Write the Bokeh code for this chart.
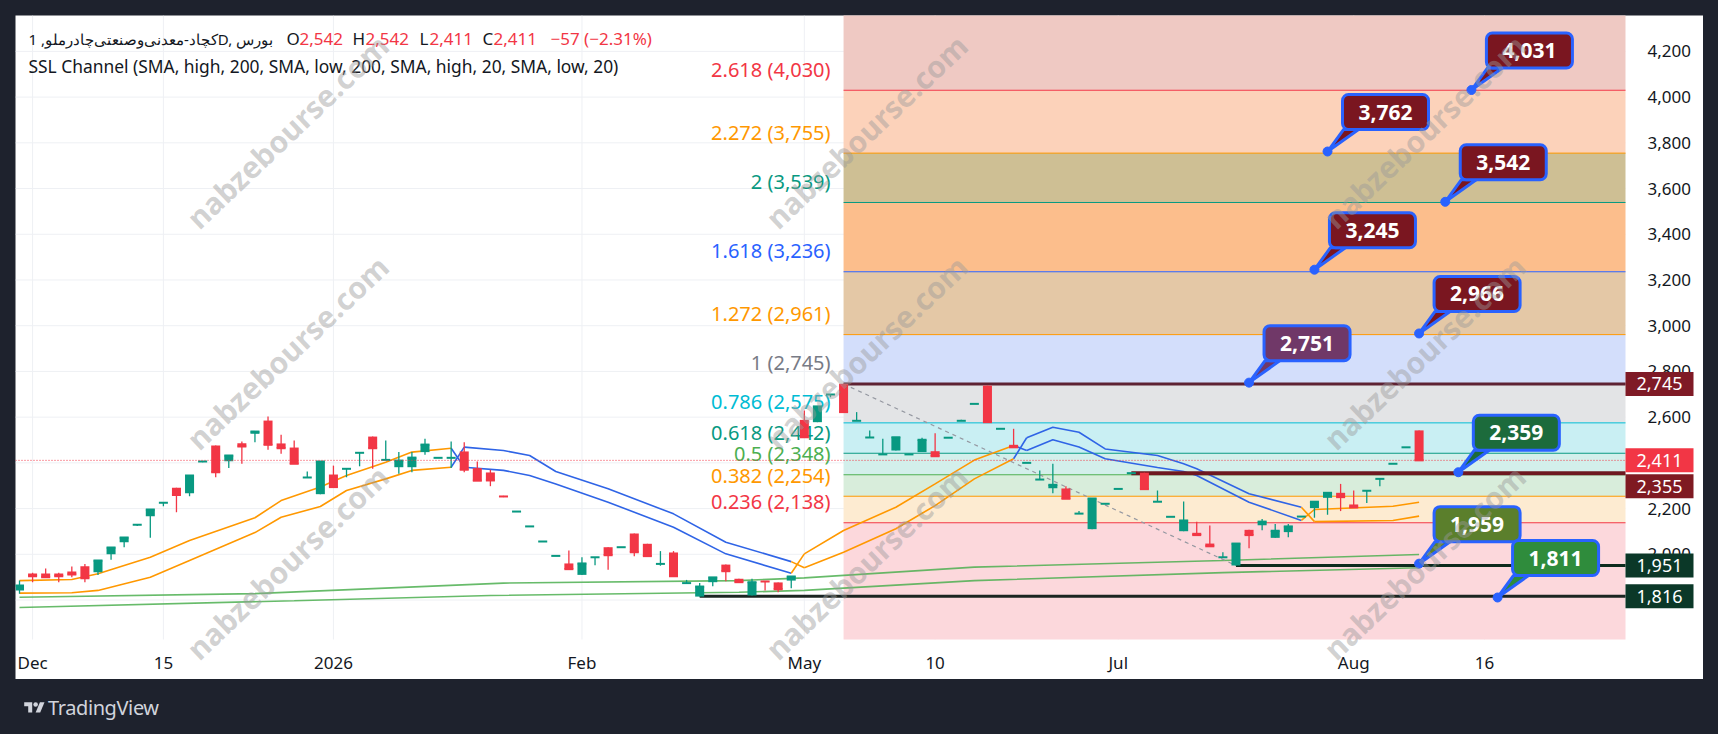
import numpy as np
from bokeh.plotting import figure
from bokeh.models import Label, Div
from bokeh.layouts import column
from bokeh.core.properties import value
from bokeh.embed import file_html
from bokeh.resources import INLINE

# ---------------- data ----------------
opens = [1842, 1916, 1916, 1916, 1925, 1948, 1922, 2000, 2053, 2129, 2167, 2225, 2291, 2267, 2406, 2476,
         2407, 2486, 2527, 2585, 2485, 2467, 2336, 2263, 2349, 2374, 2444, 2515, 2413, 2381, 2381, 2447,
         2422, 2422, 2450, 2377, 2358, 2254, 2187, 2122, 2056, 1993, 1960, 1910, 1987, 2031, 2031, 2091,
         2046, 1958, 2008, 1874, 1815, 1878, 1955, 1893, 1820, 1882, 1877, 1885, 2588, 2578, 2699, 2746,
         2584, 2511, 2437, 2454, 2437, 2447, 2451, 2510, 2584, 2658, 2738, 2549, 2479, 2400, 2327, 2289,
         2288, 2178, 2110, 2221, 2286, 2355, 2357, 2230, 2164, 2101, 2094, 2047, 1987, 1951, 2107, 2127,
         2072, 2097, 2165, 2202, 2247, 2269, 2218, 2278, 2330, 2396, 2468, 2542]
highs = [1885, 1919, 1938, 1919, 1947, 1958, 1973, 2030, 2073, 2129, 2196, 2225, 2291, 2345, 2406, 2476,
         2432, 2493, 2537, 2603, 2523, 2498, 2362, 2406, 2388, 2374, 2444, 2515, 2498, 2447, 2447, 2505,
         2422, 2493, 2490, 2406, 2370, 2256, 2187, 2122, 2056, 1993, 2017, 1987, 1987, 2031, 2031, 2091,
         2046, 2014, 2014, 1888, 1874, 1899, 1955, 1893, 1893, 1882, 1877, 1903, 2629, 2647, 2699, 2746,
         2622, 2542, 2505, 2512, 2440, 2510, 2530, 2510, 2589, 2658, 2738, 2549, 2549, 2400, 2367, 2396,
         2298, 2189, 2244, 2221, 2286, 2355, 2357, 2279, 2164, 2231, 2142, 2126, 2009, 2047, 2107, 2154,
         2133, 2133, 2165, 2230, 2269, 2308, 2279, 2278, 2330, 2396, 2468, 2542]
lows = [1827, 1878, 1900, 1878, 1900, 1878, 1910, 1976, 2031, 2124, 2072, 2210, 2184, 2254, 2403, 2337,
        2377, 2396, 2490, 2457, 2440, 2396, 2336, 2263, 2294, 2337, 2385, 2374, 2413, 2352, 2359, 2435,
        2422, 2377, 2359, 2322, 2298, 2250, 2187, 2122, 2056, 1993, 1935, 1910, 1952, 1932, 2031, 1992,
        1992, 1950, 1904, 1874, 1815, 1860, 1882, 1878, 1820, 1842, 1834, 1852, 2512, 2578, 2687, 2622,
        2584, 2511, 2437, 2454, 2437, 2447, 2429, 2510, 2584, 2658, 2578, 2549, 2468, 2400, 2327, 2267,
        2243, 2178, 2110, 2221, 2286, 2355, 2285, 2230, 2164, 2101, 2084, 2035, 1987, 1951, 2027, 2105,
        2072, 2075, 2165, 2160, 2173, 2189, 2205, 2224, 2298, 2396, 2468, 2411]
closes = [1863, 1904, 1900, 1904, 1912, 1895, 1973, 2030, 2073, 2129, 2196, 2225, 2259, 2345, 2406, 2359,
          2432, 2472, 2537, 2479, 2464, 2396, 2336, 2406, 2294, 2374, 2444, 2464, 2413, 2410, 2423, 2480,
          2422, 2422, 2370, 2322, 2323, 2253, 2187, 2122, 2056, 1993, 1935, 1960, 1987, 1996, 2031, 2009,
          1992, 1958, 1904, 1874, 1859, 1899, 1926, 1878, 1878, 1881, 1847, 1903, 2512, 2647, 2699, 2622,
          2584, 2511, 2437, 2512, 2437, 2501, 2429, 2510, 2584, 2658, 2578, 2549, 2468, 2400, 2327, 2304,
          2243, 2178, 2244, 2221, 2286, 2355, 2285, 2230, 2164, 2148, 2084, 2035, 1987, 2047, 2084, 2143,
          2103, 2122, 2165, 2230, 2269, 2250, 2205, 2278, 2330, 2396, 2468, 2411]

x_tick_bars = [1, 11, 24, 43, 60, 70, 84, 102, 112]
x_tick_labels = ["Dec", "15", "2026", "Feb", "May", "10", "Jul", "Aug", "16"]
y_ticks = [1800, 2000, 2200, 2400, 2600, 2800, 3000, 3200, 3400, 3600, 3800, 4000, 4200]

fib_ratio_labels = ["0.236", "0.382", "0.5", "0.618", "0.786", "1", "1.272", "1.618", "2", "2.272", "2.618"]
fib_prices = [2138, 2254, 2348, 2442, 2575, 2745, 2961, 3236, 3539, 3755, 4030]
fib_start_bar = 63

ssl200_hi_x = [0, 18, 37, 55, 60, 73, 92, 107]
ssl200_hi = [1812, 1828, 1874, 1885, 1897, 1944, 1973, 1999]
ssl200_lo_x = [0, 21, 36, 55, 60, 73, 92, 107]
ssl200_lo = [1767, 1797, 1820, 1834, 1842, 1885, 1920, 1941]

ssl20_x = [0, 4, 6, 10, 13, 18, 20, 23, 25, 28, 30, 33,
           34, 37, 39, 41, 45, 50, 54, 59,
           60, 63, 67, 70, 73, 76,
           77, 79, 81, 83, 87, 89, 90, 94, 98,
           99, 105, 107]
ssl20_hi = [1885, 1890, 1915, 1987, 2060, 2160, 2235, 2294, 2345, 2403, 2447, 2464,
            2469, 2454, 2432, 2362, 2287, 2177, 2053, 1968,
            2002, 2104, 2206, 2308, 2412, 2476,
            2510, 2556, 2534, 2461, 2432, 2396, 2374, 2265, 2206,
            2196, 2210, 2228]
ssl20_lo = [1830, 1832, 1842, 1900, 1973, 2095, 2162, 2209, 2279, 2330, 2367, 2381,
            2381, 2367, 2345, 2308, 2228, 2118, 2002, 1917,
            1941, 2009, 2112, 2213, 2330, 2418,
            2454, 2501, 2469, 2418, 2380, 2362, 2345, 2228, 2148,
            2143, 2148, 2167]
ssl20_regimes = [(0, 33, "up"), (34, 59, "down"), (60, 76, "up"), (77, 98, "down"), (99, 107, "up")]

hline_prices = [2745, 2355, 1951, 1816]
hline_start_bars = [63, 85, 93, 52]

trend_bars = [63, 93]
trend_prices = [2745, 1951]

callout_values = [4031, 3762, 3542, 3245, 2966, 2751, 2359, 1959, 1811]
callout_bars = [111, 100, 109, 99, 107, 94, 110, 107, 113]

axis_mark_prices = [2745, 2411, 2355, 1951, 1816]

# ---------------- geometry / styling ----------------
W, H = 1688, 664            # white panel
PLOT_W, PLOT_H = 1610, 624  # chart pane (the rest is the price / time scale)
X0, X_EDGE = -0.306, 122.78
PB, Y1 = 1627.3, 4357.0
PXX = (X_EDGE - X0) / PLOT_W
PXY = (Y1 - PB) / PLOT_H
X_END = X0 + W * PXX
Y0 = PB - (H - PLOT_H) * PXY
FONT = "Noto Sans"
UP, DN = "#089981", "#f23645"
ORANGE, BLUE, GREEN = "#ff9800", "#2f64e6", "#4caf50"
TXT = "#131722"
GRID = "#eef0f4"

p = figure(width=W, height=H, x_range=(X0, X_END), y_range=(Y0, Y1),
           output_backend="svg", toolbar_location=None,
           x_axis_location=None, y_axis_location=None,
           min_border_left=0, min_border_top=0, min_border_right=0, min_border_bottom=0,
           background_fill_color="white", border_fill_color="white", outline_line_color=None)
p.grid.visible = False

# grid of the chart pane
p.segment(x0=x_tick_bars, y0=PB, x1=x_tick_bars, y1=Y1, line_color=GRID, line_width=1)
p.segment(x0=X0, y0=y_ticks, x1=X_EDGE, y1=y_ticks, line_color=GRID, line_width=1)

# Fibonacci bands
band_colors = ["#fcd8dc", "#fdebd1", "#d8eddb", "#d3efeb", "#c9eff3", "#e3e4e6",
               "#d3defb", "#e4c8a6", "#fcbe8c", "#cebf94", "#fcd2ba", "#efc9c3"]
edges = [PB] + fib_prices + [Y1 + 100]
p.quad(left=fib_start_bar, right=X_EDGE, bottom=edges[:-1], top=edges[1:],
       fill_color=band_colors, line_color=None)
fib_colors = ["#f23645", "#ff9800", "#4caf50", "#089981", "#00bcd4", "#787b86",
              "#ff9800", "#2962ff", "#089981", "#ff9800", "#f23645"]
p.segment(x0=fib_start_bar, y0=fib_prices, x1=X_EDGE, y1=fib_prices, line_color=fib_colors, line_width=1)
fib_texts = [f"{r} ({v:,})" for r, v in zip(fib_ratio_labels, fib_prices)]
p.text(x=[fib_start_bar] * len(fib_prices), y=fib_prices, text=fib_texts, text_color=fib_colors,
       text_align="right", text_baseline="middle", x_offset=-13, y_offset=-21,
       text_font=value(FONT), text_font_size="20px")

# SSL channel 200
p.line(ssl200_hi_x, ssl200_hi, line_color=GREEN, line_width=1.6, line_alpha=0.85)
p.line(ssl200_lo_x, ssl200_lo, line_color=GREEN, line_width=1.6, line_alpha=0.85)

# SSL channel 20
sx = np.array(ssl20_x); shi = np.array(ssl20_hi); slo = np.array(ssl20_lo)
prev = None
for a, b, trend in ssl20_regimes:
    m = (sx >= a) & (sx <= b)
    col = ORANGE if trend == "up" else BLUE
    p.line(sx[m], shi[m], line_color=col, line_width=1.6)
    p.line(sx[m], slo[m], line_color=col, line_width=1.6)
    if prev is not None:
        p.line([sx[prev][-1], sx[m][0]], [shi[prev][-1], slo[m][0]], line_color=col, line_width=1.6)
        p.line([sx[prev][-1], sx[m][0]], [slo[prev][-1], shi[m][0]], line_color=col, line_width=1.6)
    prev = m

# trend line and horizontal drawings
p.line(trend_bars, trend_prices, line_color="#9598a1", line_dash="4 4", line_width=1.2)
p.segment(x0=hline_start_bars, y0=hline_prices, x1=[X_EDGE] * len(hline_prices), y1=hline_prices,
          line_color=["#5e2233", "#6e1820", "#0d2b1d", "#1b2521"], line_width=[3, 4, 3, 3])

# candles
o = np.array(opens); c = np.array(closes); hi = np.array(highs); lo = np.array(lows)
bars = np.arange(len(o))
cols = [UP if cc >= oo else DN for oo, cc in zip(o, c)]
p.segment(x0=bars, y0=hi, x1=bars, y1=lo, line_color=cols, line_width=1.3)
p.vbar(x=bars, width=0.69, top=np.maximum(o, c), bottom=np.minimum(o, c), fill_color=cols, line_color=None)
p.rect(x=bars, y=c, width=0.69, height=2, height_units="screen", fill_color=cols, line_color=None)

# last price line
p.segment(x0=[X0], y0=[closes[-1]], x1=[X_EDGE], y1=[closes[-1]], line_color=DN, line_dash="1 2", line_width=1)

# callouts
callout_fills = ["#7a1620", "#7a1620", "#7a1620", "#7a1620", "#7a1620", "#703868", "#1c6b3c", "#5b7f2c", "#2f8c3c"]
pxs, pys = [], []
for v, b in zip(callout_values, callout_bars):
    pxs.append([b, b + 16 * PXX, b + 31 * PXX])
    pys.append([v, v + 22 * PXY, v + 22 * PXY])
p.patches(pxs, pys, fill_color=callout_fills, line_color="#2962ff", line_width=3, line_join="round")
p.scatter(callout_bars, callout_values, size=9, fill_color="#2962ff", line_color="#2962ff")
bx = [b + 58 * PXX for b in callout_bars]
by = [v + 39.5 * PXY for v in callout_values]
box_kw = dict(x=bx, y=by, width=86, height=35, width_units="screen", height_units="screen",
              fill_color=callout_fills, line_color="#2962ff", line_width=3)
try:
    p.rect(border_radius=6, **box_kw)
except Exception:
    p.rect(**box_kw)
p.text(x=bx, y=by, text=[f"{v:,}" for v in callout_values], text_color="white", text_align="center",
       text_baseline="middle", text_font=value(FONT), text_font_size="21px", text_font_style="bold")

# price scale (right)
p.text(x=[X_EDGE] * len(y_ticks), y=y_ticks, text=[f"{t:,}" for t in y_ticks], x_offset=22,
       text_align="left", text_baseline="middle", text_color=TXT, text_font=value(FONT), text_font_size="17px")
mark_fills = ["#7f1a26", "#f23645", "#7f1a22", "#0b3828", "#0b3828"]
mark_shift_px = [0, 0, -13, 0, 0]
mx = X_EDGE + 34 * PXX
my = [v + s * PXY for v, s in zip(axis_mark_prices, mark_shift_px)]
p.rect(x=mx, y=my, width=68, height=24, width_units="screen", height_units="screen",
       fill_color=mark_fills, line_color=None)
p.text(x=[mx] * len(my), y=my, text=[f"{v:,}" for v in axis_mark_prices], text_color="white",
       text_align="center", text_baseline="middle", text_font=value(FONT), text_font_size="18px")

# time scale (bottom)
p.text(x=x_tick_bars, y=[PB] * len(x_tick_bars), text=x_tick_labels, y_offset=23,
       text_align="center", text_baseline="middle", text_color=TXT, text_font=value(FONT), text_font_size="17px")

# header legend
def hdr(x, y, text, color, size="17px"):
    p.add_layout(Label(x=x - 15, y=H - (y - 15), x_units="screen", y_units="screen", text=text,
                       text_align="left", text_baseline="middle", text_color=color,
                       text_font=FONT, text_font_size=size))

hdr(28, 38, "کچاد-معدنی\u200cوصنعتی\u200cچادرملو, 1D, بورس", TXT, "15px")
o_last, h_last, l_last, c_last = opens[-1], highs[-1], lows[-1], closes[-1]
chg = c_last - closes[-2]
hdr(286, 38, "O", TXT); hdr(299, 38, f"{o_last:,}", DN)
hdr(352, 38, "H", TXT); hdr(365, 38, f"{h_last:,}", DN)
hdr(419, 38, "L", TXT); hdr(429, 38, f"{l_last:,}", DN)
hdr(482, 38, "C", TXT); hdr(493, 38, f"{c_last:,}", DN)
hdr(550, 38, f"\u2212{abs(chg)} (\u2212{abs(chg) / closes[-2] * 100:.2f}%)", DN)
hdr(28, 65, "SSL Channel (SMA, high, 200, SMA, low, 200, SMA, high, 20, SMA, low, 20)", TXT, "17.4px")

# watermark
for wx in (287, 866, 1424):
    for wy in (131, 352, 562):
        p.add_layout(Label(x=wx - 15, y=H - (wy - 15), x_units="screen", y_units="screen", text="nabzebourse.com",
                           angle=0.76, text_align="center", text_baseline="middle", text_color="#9a9a9a",
                           text_alpha=0.45, text_font=FONT, text_font_size="30px", text_font_style="bold"))

logo_html = ('<div style="display:flex;align-items:center;margin-top:10px;margin-left:4px;color:#d1d4dc;'
             'font-family:\'Noto Sans\',sans-serif;font-size:20px;">'
             '<svg width="21" height="16" viewBox="0 0 36 28"><path d="M14 22H7V11H0V4h14v18z" fill="#d1d4dc"/>'
             '<circle cx="20" cy="8" r="4" fill="#d1d4dc"/><path d="M28 22h-8l7.5-18h8L28 22z" fill="#d1d4dc"/></svg>'
             '<span style="margin-left:3px;letter-spacing:-0.4px;">TradingView</span></div>')
logo = Div(text=logo_html, width=300, height=40)

layout = column(p, logo, styles={"background-color": "#1e222d"})

html = file_html(layout, INLINE)
html = html.replace("</head>", "<style>html,body{background:#1e222d;}body{margin:15px 0 0 15px;}</style></head>", 1)
open("out.html", "w").write(html)
